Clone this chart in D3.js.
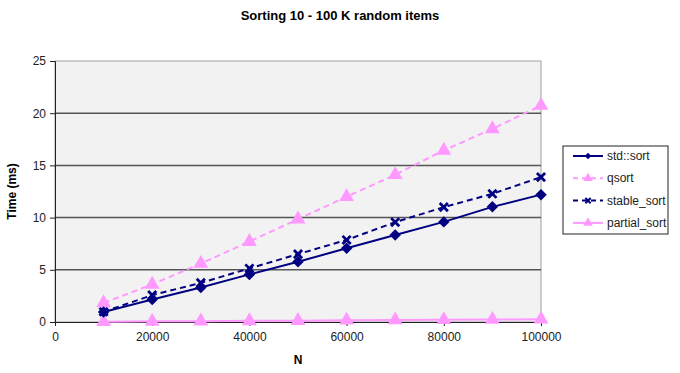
<!DOCTYPE html>
<html>
<head>
<meta charset="utf-8">
<script src="https://cdn.jsdelivr.net/npm/d3@7"></script>
<style>
  body { margin: 0; background: #fff; }
  svg text { font-family: Arial, "Liberation Sans", sans-serif; }
  .axis text { font-size: 12px; fill: #222; }
</style>
</head>
<body>
<div id="chart"></div>
<script>
// data
var sizes = [10000, 20000, 30000, 40000, 50000, 60000, 70000, 80000, 90000, 100000];
var stdSort = [0.96, 2.15, 3.3, 4.56, 5.77, 7.06, 8.34, 9.59, 11.03, 12.2];
var qsortTimes = [1.83, 3.6, 5.6, 7.7, 9.85, 12.0, 14.1, 16.44, 18.5, 20.74];
var stableSort = [0.98, 2.57, 3.75, 5.13, 6.5, 7.86, 9.56, 11.0, 12.28, 13.88];
var partialSort = [0.03, 0.06, 0.08, 0.11, 0.13, 0.16, 0.19, 0.21, 0.24, 0.27];
var xTicks = [0, 20000, 40000, 60000, 80000, 100000];
var yTicks = [0, 5, 10, 15, 20, 25];

var navy = "#000080", pink = "#ff99ff";

var series = [
  { name: "std::sort", values: stdSort, color: navy, dash: null, marker: "diamond" },
  { name: "qsort", values: qsortTimes, color: pink, dash: "6,4", marker: "triangle" },
  { name: "stable_sort", values: stableSort, color: navy, dash: "6,4", marker: "cross" },
  { name: "partial_sort", values: partialSort, color: pink, dash: null, marker: "triangle" }
];

var margin = { top: 61, right: 139, bottom: 51, left: 55 };
var width = 680 - margin.left - margin.right;
var height = 373 - margin.top - margin.bottom;

var svg = d3.select("#chart")
  .append("svg")
  .attr("width", 680)
  .attr("height", 373);

var g = svg.append("g")
  .attr("transform", "translate(" + margin.left + "," + margin.top + ")");

var x = d3.scaleLinear().domain([0, 100000]).range([0, width]);
var y = d3.scaleLinear().domain([0, 25]).range([height, 0]);

// plot background
g.append("rect")
  .attr("width", width)
  .attr("height", height)
  .attr("fill", "#f2f2f2")
  .attr("stroke", "#a0a0a0");

// gridlines
g.selectAll(".grid")
  .data(yTicks.filter(d => d > 0 && d < 25))
  .enter()
  .append("line")
  .attr("x1", 0)
  .attr("x2", width)
  .attr("y1", d => y(d))
  .attr("y2", d => y(d))
  .attr("stroke", "#555")
  .attr("stroke-width", 1.5);

// axes
var xAxis = d3.axisBottom(x).tickValues(xTicks).tickFormat(d3.format("d")).tickSize(4).tickPadding(6);
var yAxis = d3.axisLeft(y).tickValues(yTicks).tickSize(5).tickPadding(4);

g.append("g")
  .attr("class", "x axis")
  .attr("transform", "translate(0," + height + ")")
  .call(xAxis)
  .call(ax => ax.selectAll("line, path").attr("stroke", "#222"));

g.append("g")
  .attr("class", "y axis")
  .call(yAxis)
  .call(ax => ax.selectAll("line, path").attr("stroke", "#222"));

// marker shapes
function drawMarker(sel, type, color, cx, cy) {
  if (type === "diamond") {
    sel.append("path")
      .attr("d", d3.symbol(d3.symbolSquare, 66)())
      .attr("transform", "translate(" + cx + "," + cy + ") rotate(45)")
      .attr("fill", color);
  } else if (type === "triangle") {
    sel.append("path")
      .attr("d", d3.symbol(d3.symbolTriangle, 95)())
      .attr("transform", "translate(" + cx + "," + cy + ")")
      .attr("fill", color);
  } else {
    sel.append("path")
      .attr("d", d3.symbol(d3.symbolX, 45)())
      .attr("transform", "translate(" + cx + "," + cy + ")")
      .attr("stroke", color)
      .attr("stroke-width", 2.8)
      .attr("fill", "none");
  }
}

var line = d3.line()
  .x((d, i) => x(sizes[i]))
  .y(d => y(d));

var plot = g.append("g");
series.slice().reverse().forEach(function(s) {
  plot.append("path")
    .attr("d", line(s.values))
    .attr("fill", "none")
    .attr("stroke", s.color)
    .attr("stroke-width", 2)
    .attr("stroke-dasharray", s.dash);
  s.values.forEach(function(v, i) {
    drawMarker(plot, s.marker, s.color, x(sizes[i]), y(v));
  });
});

// titles
svg.append("text")
  .attr("x", 340)
  .attr("y", 20)
  .attr("text-anchor", "middle")
  .attr("font-size", "13px")
  .attr("font-weight", "bold")
  .text("Sorting 10 - 100 K random items");

svg.append("text")
  .attr("text-anchor", "middle")
  .attr("transform", "translate(16," + (margin.top + height / 2) + ") rotate(-90)")
  .attr("font-size", "12px")
  .attr("font-weight", "bold")
  .text("Time (ms)");

svg.append("text")
  .attr("x", margin.left + width / 2)
  .attr("y", 364)
  .attr("text-anchor", "middle")
  .attr("font-size", "12px")
  .attr("font-weight", "bold")
  .text("N");

// legend
var legend = svg.append("g").attr("transform", "translate(563,146)");
legend.append("rect")
  .attr("width", 105)
  .attr("height", 88)
  .attr("fill", "#fff")
  .attr("stroke", "#222");

series.forEach(function(s, i) {
  var ly = 10 + i * 22.3;
  legend.append("line")
    .attr("x1", 10)
    .attr("x2", 40)
    .attr("y1", ly)
    .attr("y2", ly)
    .attr("stroke", s.color)
    .attr("stroke-width", 2)
    .attr("stroke-dasharray", s.dash ? "5,4" : null);
  var m = legend.append("g");
  if (s.marker === "triangle") {
    m.append("path").attr("d", d3.symbol(d3.symbolTriangle, 40)())
      .attr("transform", "translate(25," + ly + ")").attr("fill", s.color);
  } else if (s.marker === "diamond") {
    m.append("path").attr("d", d3.symbol(d3.symbolSquare, 22)())
      .attr("transform", "translate(25," + ly + ") rotate(45)").attr("fill", s.color);
  } else {
    m.append("path").attr("d", d3.symbol(d3.symbolX, 20)())
      .attr("transform", "translate(25," + ly + ")").attr("stroke", s.color)
      .attr("stroke-width", 2).attr("fill", "none");
  }
  legend.append("text")
    .attr("x", 44)
    .attr("y", ly + 4)
    .attr("font-size", "12px")
    .attr("fill", "#222")
    .text(s.name);
});
</script>
</body>
</html>
